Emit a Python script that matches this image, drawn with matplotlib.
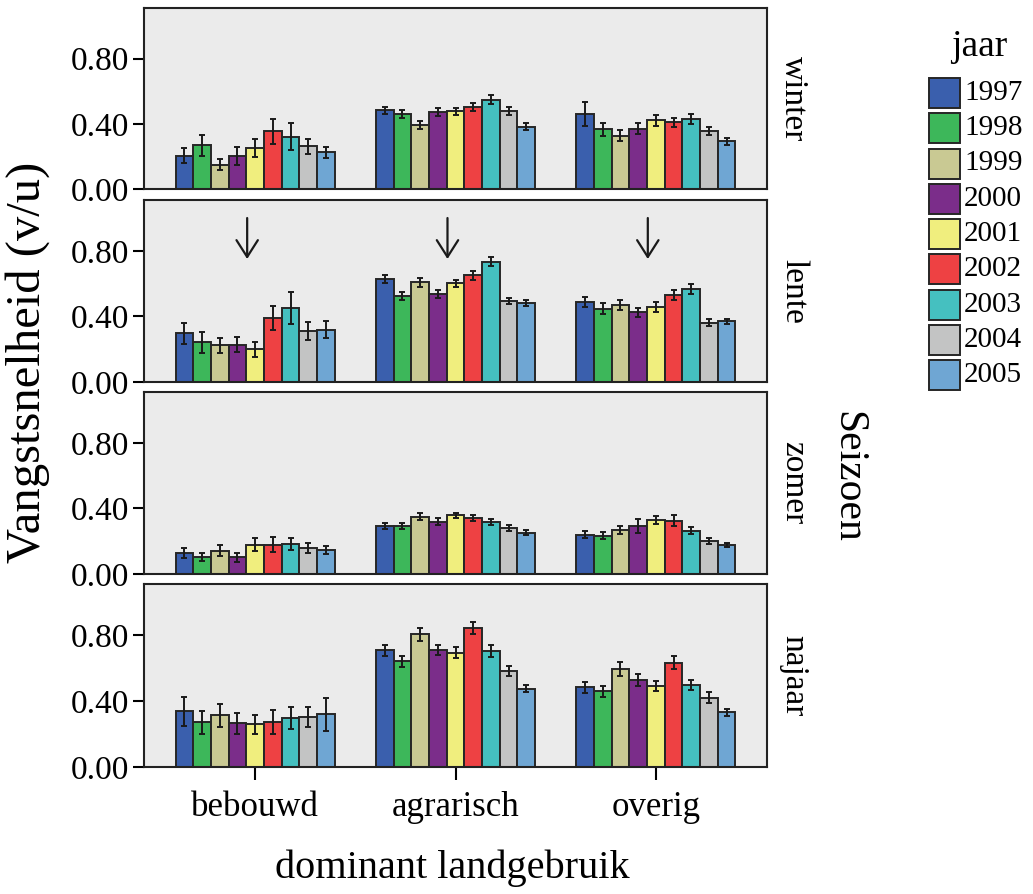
import matplotlib
matplotlib.use("Agg")
import matplotlib.pyplot as plt
import numpy as np
from matplotlib.patches import Rectangle

plt.rcParams['font.family'] = ['Liberation Serif', 'DejaVu Serif']

categories = ["bebouwd", "agrarisch", "overig"]
years = ["1997", "1998", "1999", "2000", "2001", "2002", "2003", "2004", "2005"]
seasons = ["winter", "lente", "zomer", "najaar"]
colors = ["#3A5FAD", "#3DB75A", "#C9C993", "#7B2D8A", "#F0EE7E",
          "#EE4143", "#45C0C0", "#C3C4C4", "#6FA6D3"]

# values[season][category] -> list over years
winter_bebouwd = [0.205, 0.267, 0.150, 0.203, 0.252, 0.353, 0.320, 0.261, 0.224]
winter_agrarisch = [0.482, 0.459, 0.394, 0.472, 0.476, 0.503, 0.548, 0.480, 0.382]
winter_overig = [0.459, 0.367, 0.328, 0.371, 0.421, 0.408, 0.429, 0.357, 0.293]
lente_bebouwd = [0.297, 0.242, 0.224, 0.228, 0.199, 0.390, 0.453, 0.310, 0.320]
lente_agrarisch = [0.626, 0.525, 0.607, 0.537, 0.601, 0.650, 0.734, 0.492, 0.482]
lente_overig = [0.488, 0.447, 0.470, 0.425, 0.455, 0.531, 0.566, 0.361, 0.369]
zomer_bebouwd = [0.127, 0.105, 0.142, 0.103, 0.179, 0.179, 0.183, 0.158, 0.144]
zomer_agrarisch = [0.294, 0.294, 0.349, 0.320, 0.357, 0.343, 0.316, 0.279, 0.251]
zomer_overig = [0.240, 0.234, 0.269, 0.292, 0.331, 0.326, 0.265, 0.201, 0.175]
najaar_bebouwd = [0.337, 0.272, 0.313, 0.264, 0.258, 0.272, 0.297, 0.301, 0.319]
najaar_agrarisch = [0.708, 0.640, 0.804, 0.710, 0.693, 0.843, 0.703, 0.583, 0.476]
najaar_overig = [0.483, 0.458, 0.593, 0.526, 0.491, 0.632, 0.497, 0.421, 0.331]

# error bar half-widths
winter_bebouwd_err = [0.047, 0.066, 0.032, 0.057, 0.056, 0.079, 0.083, 0.046, 0.036]
winter_agrarisch_err = [0.023, 0.023, 0.023, 0.026, 0.023, 0.025, 0.027, 0.024, 0.020]
winter_overig_err = [0.073, 0.039, 0.032, 0.032, 0.034, 0.027, 0.030, 0.023, 0.021]
lente_bebouwd_err = [0.063, 0.065, 0.045, 0.046, 0.046, 0.074, 0.097, 0.055, 0.054]
lente_agrarisch_err = [0.025, 0.023, 0.025, 0.023, 0.022, 0.025, 0.029, 0.019, 0.018]
lente_overig_err = [0.030, 0.032, 0.032, 0.029, 0.031, 0.033, 0.032, 0.022, 0.017]
zomer_bebouwd_err = [0.031, 0.025, 0.032, 0.028, 0.039, 0.045, 0.036, 0.031, 0.025]
zomer_agrarisch_err = [0.020, 0.018, 0.020, 0.019, 0.016, 0.019, 0.019, 0.017, 0.016]
zomer_overig_err = [0.021, 0.023, 0.025, 0.042, 0.025, 0.031, 0.023, 0.016, 0.013]
najaar_bebouwd_err = [0.088, 0.070, 0.070, 0.061, 0.060, 0.074, 0.064, 0.060, 0.099]
najaar_agrarisch_err = [0.034, 0.034, 0.037, 0.030, 0.034, 0.039, 0.036, 0.029, 0.021]
najaar_overig_err = [0.032, 0.034, 0.043, 0.036, 0.028, 0.039, 0.031, 0.031, 0.020]

data = {
    "winter": ([winter_bebouwd, winter_agrarisch, winter_overig],
               [winter_bebouwd_err, winter_agrarisch_err, winter_overig_err]),
    "lente": ([lente_bebouwd, lente_agrarisch, lente_overig],
              [lente_bebouwd_err, lente_agrarisch_err, lente_overig_err]),
    "zomer": ([zomer_bebouwd, zomer_agrarisch, zomer_overig],
              [zomer_bebouwd_err, zomer_agrarisch_err, zomer_overig_err]),
    "najaar": ([najaar_bebouwd, najaar_agrarisch, najaar_overig],
               [najaar_bebouwd_err, najaar_agrarisch_err, najaar_overig_err]),
}
yticks = [0.0, 0.4, 0.8]
ytick_labels = ["0.00", "0.40", "0.80"]

W, H = 1033, 894
fig = plt.figure(figsize=(W / 100, H / 100), dpi=100)

panel_px = [(8, 189), (200, 382), (392, 574), (584, 767)]
left_px, right_px = 144, 767
bar_w = 0.0883
x = np.arange(len(categories))
edge = "#262626"

for si, season in enumerate(seasons):
    top, bot = panel_px[si]
    ax = fig.add_axes([left_px / W, 1 - bot / H, (right_px - left_px) / W, (bot - top) / H])
    ax.set_facecolor("#EBEBEB")
    vals, errs = data[season]
    vals = np.array(vals)
    errs = np.array(errs)
    for yi in range(len(years)):
        xpos = x + (yi - 4) * bar_w
        ax.bar(xpos, vals[:, yi], width=bar_w, color=colors[yi], edgecolor=edge,
               linewidth=1.4, zorder=2)
        ax.errorbar(xpos, vals[:, yi], yerr=errs[:, yi], fmt="none", ecolor="#1a1a1a",
                    elinewidth=1.4, capsize=2, capthick=1.4, zorder=3)
    ax.set_xlim(-0.555, 2.555)
    ax.set_ylim(0, 1.11)
    ax.set_yticks(yticks)
    ax.set_yticklabels(ytick_labels, fontsize=24)
    ax.tick_params(axis="y", direction="out", length=8, width=1.5, pad=3)
    for sp in ax.spines.values():
        sp.set_linewidth(1.5)
        sp.set_color("#222222")
    if si == 3:
        ax.set_xticks(x)
        ax.set_xticklabels(categories, fontsize=25)
        ax.tick_params(axis="x", direction="out", length=9, width=1.5, pad=8)
    else:
        ax.set_xticks([])
    ax.text(1.042, 0.5, season, transform=ax.transAxes, rotation=270,
            ha="center", va="center", fontsize=24)
    if season == "lente":
        for c in x:
            ax.annotate("", xy=(c - 0.04, 0.75), xytext=(c - 0.04, 1.0),
                        arrowprops=dict(arrowstyle="->,head_length=0.55,head_width=0.35",
                                        lw=1.6, color="#1a1a1a", mutation_scale=22,
                                        shrinkA=0, shrinkB=0))

fig.text(28 / W, 1 - 362 / H, "Vangstsnelheid (v/u)", rotation=90,
         ha="center", va="center", fontsize=35)
fig.text(452 / W, 1 - 868 / H, "dominant landgebruik", ha="center", va="center", fontsize=29)
fig.text(848 / W, 1 - 477 / H, "Seizoen", rotation=270, ha="center", va="center", fontsize=30)

# legend
fig.text(979 / W, 1 - 47 / H, "jaar", ha="center", va="center", fontsize=27)
for yi, (yr, col) in enumerate(zip(years, colors)):
    yc = 93 + yi * 35.25
    fig.patches.append(Rectangle((929 / W, 1 - (yc + 15) / H), 31 / W, 30 / H,
                                 transform=fig.transFigure, facecolor=col,
                                 edgecolor=edge, linewidth=1.4))
    fig.text(964 / W, 1 - yc / H, yr, ha="left", va="center", fontsize=21)

fig.savefig("out.png", dpi=100)
